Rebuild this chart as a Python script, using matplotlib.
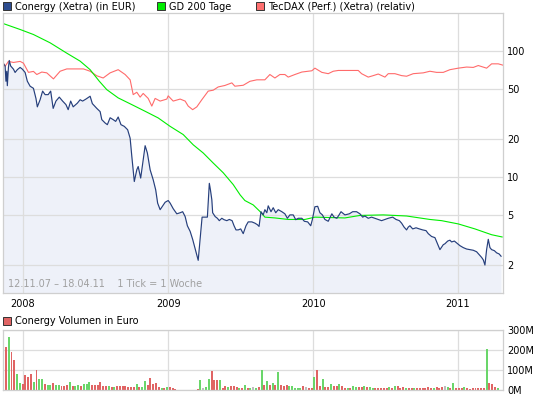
import matplotlib
matplotlib.use("Agg")
import matplotlib.pyplot as plt
import matplotlib.dates as mdates
from matplotlib.patches import Rectangle
from matplotlib.ticker import NullLocator
import numpy as np
import pandas as pd

# Wochen seit Start (12.11.07) und Kurs in EUR
kurs_woche = [0, 0.7, 1.0, 1.3, 1.5, 1.9, 2.2, 2.7, 3.7, 4.3,
              5.1, 6.1, 6.9, 7.9, 8.7, 9.7, 10.9, 11.8, 12.3, 13.3,
              14.2, 15.1, 16.2, 17.1, 18.0, 19.0, 20.2, 21.4, 22.6, 23.4,
              24.3, 25.2, 26.7, 27.7, 28.6, 29.8, 31.3, 32.1, 33.7, 34.9,
              35.5, 36.7, 37.5, 38.5, 39.6, 40.5, 41.4, 42.4, 43.6, 44.8,
              45.7, 46.3, 47.2, 48.1, 48.6, 49.5, 50.4, 51.1, 51.9, 52.9,
              54.0, 54.9, 55.6, 56.5, 57.3, 58.3, 59.4, 60.1, 61.2, 62.5,
              63.7, 64.6, 65.5, 66.3, 67.3, 68.2, 69.1, 69.7, 70.2, 70.9,
              71.2, 71.6, 72.7, 73.5, 73.8, 74.2, 74.6, 75.1, 75.4, 76.3,
              77.1, 77.8, 78.7, 79.5, 80.5, 81.4, 82.4, 83.1, 83.8, 84.6,
              85.5, 86.4, 87.4, 88.2, 89.5, 90.6, 91.5, 92.1, 92.8, 93.6,
              94.2, 94.9, 95.4, 96.4, 97.2, 98.1, 99.0, 100.3, 101.4, 102.3,
              103.2, 104.4, 105.3, 106.2, 107.5, 108.4, 109.6, 110.7, 111.3, 112.2,
              113.2, 114.0, 114.9, 115.8, 117.0, 118.3, 119.1, 120.1, 120.9, 121.6,
              123.0, 124.6, 125.8, 127.2, 128.4, 129.4, 130.2, 131.4, 132.6, 133.8,
              135.0, 136.2, 137.4, 138.6, 140.2, 141.4, 142.6, 143.4, 144.3, 145.2,
              145.8, 146.4, 147.4, 148.6, 149.8, 151.0, 152.2, 153.0, 154.2, 155.4,
              157.2, 158.4, 159.0, 160.0, 160.8, 161.4, 162.4, 163.2, 164.4, 165.6,
              166.8, 168.0, 169.2, 170.4, 171.3, 172.2, 172.8, 173.4, 174.0, 174.6,
              175.2, 175.8, 176.8, 177.6, 178.5, 179.2]
kurs = [80, 76, 57.5, 69, 53, 74, 84, 76, 71.7, 67.5,
        71, 74, 71.7, 67.5, 57.5, 52.5, 50.5, 42, 36, 41,
        48, 45, 45, 48, 35, 40, 43, 40, 37.5, 34.2,
        40, 36, 38.5, 41, 40, 41.5, 43.7, 38.2, 35, 33,
        28.5, 26.8, 26, 29.5, 28.5, 27.6, 29.9, 26, 25.2, 23.7,
        20.3, 14.6, 9.2, 11.4, 12.1, 9.8, 13.7, 17.7, 15.5, 11.4,
        9.5, 7.9, 6.2, 5.5, 5.85, 6.3, 6.5, 6.2, 5.6, 5.1,
        5.2, 5.3, 4.85, 4.1, 3.7, 3.2, 2.7, 2.4, 2.18, 3.2,
        3.8, 4.8, 4.8, 4.8, 6.2, 8.9, 7.9, 6.6, 5.2, 4.85,
        4.7, 4.5, 4.7, 4.58, 4.5, 4.6, 4.5, 4.1, 3.8, 3.8,
        3.87, 3.55, 4.1, 4.4, 4.4, 4.3, 4.18, 4.05, 5.3, 5.0,
        5.5, 5.2, 5.9, 5.3, 5.7, 5.2, 5.5, 5.3, 5.1, 4.7,
        5.0, 5.0, 4.58, 4.7, 4.7, 4.45, 4.4, 4.1, 4.6, 5.8,
        5.85, 5.2, 5.0, 4.6, 4.45, 5.1, 4.8, 4.7, 5.0, 5.3,
        5.0, 5.1, 5.3, 5.3, 5.1, 4.8, 4.9, 4.7, 4.8, 4.7,
        4.6, 4.5, 4.6, 4.7, 4.8, 4.6, 4.5, 4.3, 4.0, 3.8,
        4.0, 4.1, 3.87, 3.95, 3.87, 3.8, 3.75, 3.55, 3.37, 3.3,
        2.65, 2.9, 2.95, 3.1, 3.15, 3.05, 3.1, 3.0, 2.85, 2.75,
        2.68, 2.65, 2.62, 2.55, 2.42, 2.3, 2.2, 2.0, 2.65, 3.2,
        2.75, 2.65, 2.6, 2.5, 2.45, 2.35]

# GD 200 Tage
gd_woche = [0, 6.1, 10.9, 16.9, 22.9, 27.7, 31.3, 34.6, 37.3, 41.4,
            46.3, 51.1, 55.8, 60.1, 64.8, 68.4, 72.0, 75.6, 79.2, 82.8,
            85.3, 87.0, 90.0, 92.4, 94.2, 97.8, 102.6, 108.6, 112.2, 123.0,
            128.4, 136.8, 145.2, 153.6, 157.8, 163.8, 169.8, 175.8, 179.6]
gd200 = [165, 148, 135, 116, 96, 83, 71, 57.5, 49.3, 42.4,
         37.5, 33.2, 29.4, 25.2, 21.7, 18.0, 15.5, 12.9, 10.8, 8.7,
         7.2, 6.5, 6.0, 5.33, 4.8, 4.73, 4.6, 4.6, 4.8, 4.73,
         4.95, 5.0, 4.9, 4.6, 4.5, 4.24, 3.87, 3.48, 3.34]

# TecDAX (relativ)
tec_woche = [0, 0.7, 1.9, 3.7, 6.1, 7.3, 9.1, 10.9, 12.1, 13.9,
             15.7, 18.1, 20.5, 22.9, 26.5, 28.9, 31.3, 33.7, 36.0, 38.5,
             41.4, 43.9, 45.7, 46.8, 48.1, 49.3, 50.4, 52.2, 53.5, 54.7,
             56.5, 58.9, 59.4, 61.2, 63.7, 65.5, 66.6, 68.2, 69.7, 71.5,
             73.8, 75.6, 77.4, 79.8, 82.3, 83.4, 86.4, 88.8, 91.3, 94.2,
             96.0, 97.8, 99.6, 101.4, 102.6, 105.0, 107.5, 111.1, 112.2, 114.7,
             117.0, 118.8, 120.6, 124.8, 127.8, 129.0, 131.4, 133.2, 135.0, 137.4,
             138.6, 141.0, 143.4, 145.2, 147.6, 151.2, 153.6, 156.0, 158.4, 160.8,
             163.8, 166.8, 169.2, 171.0, 174.0, 175.8, 178.2, 179.8]
tecdax = [80.5, 75.5, 82.6, 81, 82.6, 80, 67.6, 68.8, 65, 68,
          67, 60, 69, 72, 72, 72, 69, 63.5, 61, 67,
          71, 65, 59, 45, 47, 43, 46, 42, 36.5, 42,
          40, 41.5, 44, 40, 41.5, 40, 36.5, 34.2, 36, 41,
          48, 48.8, 51.8, 53.2, 55.8, 52.5, 53.4, 57.4, 59, 59,
          65, 61, 65, 65, 62, 65, 68, 69.6, 73, 67.6,
          66, 69, 70, 70, 70, 66, 62, 63.7, 65.6, 62,
          66, 66, 63.7, 63, 66, 67, 69, 67.6, 67.6, 71,
          73, 74.5, 74, 76.6, 73, 79, 79, 77.2]

# Wochenumsatz in Mio. EUR, eine Zahl pro Woche ab 12.11.07
volumen = [119, 215, 266, 187, 150, 78, 34, 27, 73, 65,
           78, 37, 99, 53, 53, 27, 22, 22, 32, 22,
           22, 19, 19, 24, 37, 17, 17, 22, 17, 27,
           27, 37, 22, 22, 22, 37, 17, 17, 17, 14,
           14, 17, 17, 17, 17, 12, 12, 12, 27, 12,
           12, 43, 22, 58, 27, 34, 12, 10, 7, 12,
           12, 7, 5, 0, 0, 0, 0, 0, 0, 0,
           5, 48, 10, 14, 53, 94, 48, 48, 48, 10,
           20, 14, 17, 17, 14, 7, 7, 22, 10, 7,
           12, 9, 14, 99, 22, 43, 24, 34, 24, 90,
           22, 17, 22, 17, 17, 9, 9, 9, 17, 12,
           7, 7, 63, 99, 20, 53, 14, 15, 27, 20,
           17, 27, 17, 10, 7, 7, 20, 12, 12, 12,
           19, 12, 12, 7, 7, 7, 7, 7, 7, 15,
           7, 17, 17, 7, 12, 7, 7, 7, 7, 7,
           7, 7, 7, 12, 7, 7, 12, 7, 12, 17,
           12, 7, 34, 7, 7, 7, 12, 7, 3, 7,
           7, 7, 7, 7, 206, 32, 27, 12, 7]
# 1 = Woche im Plus, -1 = im Minus, 0 = unveraendert
vol_trend = [-1, -1, 1, -1, -1, 1, 1, -1, -1, -1,
             -1, 1, -1, 1, 1, -1, 1, 1, -1, 1,
             1, -1, -1, -1, 1, -1, 1, 1, -1, 1,
             1, 1, -1, -1, -1, -1, -1, -1, 1, -1,
             1, -1, -1, -1, -1, -1, -1, -1, 1, -1,
             1, 1, -1, -1, -1, -1, -1, 1, -1, 1,
             -1, -1, -1, 0, 0, 0, 0, 0, 0, 0,
             -1, 1, 0, 1, 1, -1, -1, -1, 1, -1,
             -1, 1, -1, -1, -1, 1, -1, 1, -1, 1,
             0, 1, -1, 1, -1, 1, -1, 1, -1, 1,
             -1, -1, -1, 1, 1, 1, 1, 1, -1, 0,
             -1, -1, 1, -1, -1, 1, -1, -1, 1, -1,
             -1, 1, -1, -1, 1, -1, 1, 1, -1, -1,
             1, -1, 1, 1, -1, -1, -1, -1, -1, 1,
             -1, 1, -1, -1, -1, 1, -1, -1, 1, -1,
             -1, -1, -1, -1, -1, 1, -1, -1, -1, 0,
             1, -1, 1, -1, -1, -1, 1, -1, -1, -1,
             -1, -1, -1, -1, 1, -1, -1, -1, 1]

start = pd.Timestamp("2007-11-12")


def zu_datum(wochen):
    return start + pd.to_timedelta(np.asarray(wochen, dtype=float) * 7, unit="D")


W, H = 545, 398


def box(l, t, r, b):
    return [l / W, 1 - b / H, (r - l) / W, (b - t) / H]


fig = plt.figure(figsize=(W / 100, H / 100), dpi=100)
ax = fig.add_axes(box(3, 13, 503, 293))
axv = fig.add_axes(box(3, 330, 503, 389.5))

x_links = start - pd.Timedelta(days=0.4)
x_rechts = start + pd.Timedelta(days=1259.3)
gitter = "#dddddd"
rahmen = "#cfcfcf"

# Kurschart
d_kurs = zu_datum(kurs_woche)
ax.fill_between(d_kurs, kurs, 1.0, color="#eef1f9", lw=0, zorder=0.5)
ax.plot(zu_datum(tec_woche), tecdax, color="#ff6b6b", lw=0.8, zorder=2)
ax.plot(zu_datum(gd_woche), gd200, color="#00ee00", lw=0.8, zorder=2.1)
ax.plot(d_kurs, kurs, color="#263f7c", lw=0.85, zorder=2.2)

ax.set_yscale("log")
ax.set_ylim(1.2, 200)
ax.set_xlim(x_links, x_rechts)
ax.yaxis.set_minor_locator(NullLocator())
ax.set_yticks([2, 5, 10, 20, 50, 100])
ax.set_yticklabels(["2", "5", "10", "20", "50", "100"])
ax.yaxis.tick_right()

for a in (ax, axv):
    a.xaxis.set_major_locator(mdates.YearLocator())
    a.xaxis.set_major_formatter(mdates.DateFormatter("%Y"))
    a.grid(True, color=gitter, lw=0.9)
    a.tick_params(length=0, labelsize=7, colors="black")
    a.tick_params(axis="y", pad=3)
    a.tick_params(axis="x", pad=4)
    for s in a.spines.values():
        s.set_color(rahmen)
        s.set_linewidth(0.9)

ax.text(0.01, 0.015, "12.11.07 \u2013 18.04.11    1 Tick = 1 Woche",
        transform=ax.transAxes, fontsize=7, color="#a0a0a0", va="bottom", ha="left")

# Volumen
farben = {1: "#6ad66a", -1: "#e06464", 0: "#bdbdbd"}
d_vol = zu_datum(np.arange(len(volumen)))
axv.bar(d_vol, volumen, width=5, color=[farben[t] for t in vol_trend], lw=0, zorder=2)
axv.set_xlim(x_links, x_rechts)
axv.set_ylim(0, 300)
axv.set_yticks([0, 100, 200, 300])
axv.set_yticklabels(["0M", "100M", "200M", "300M"])
axv.yaxis.tick_right()
axv.set_xticklabels([])

# Legenden
def legende(x, y, farbe, text):
    fig.patches.append(Rectangle((x / W, 1 - (y + 8) / H), 8 / W, 8 / H,
                                 transform=fig.transFigure, facecolor=farbe,
                                 edgecolor="#333333", lw=0.7))
    fig.text((x + 12) / W, 1 - (y + 4.5) / H, text, fontsize=7, va="center", ha="left")


legende(3, 2, "#2e4d8f", "Conergy (Xetra) (in EUR)")
legende(157, 2, "#00ee00", "GD 200 Tage")
legende(256, 2, "#ff7070", "TecDAX (Perf.) (Xetra) (relativ)")
legende(3, 317, "#e06464", "Conergy Volumen in Euro")

fig.savefig("out.png", dpi=100)
